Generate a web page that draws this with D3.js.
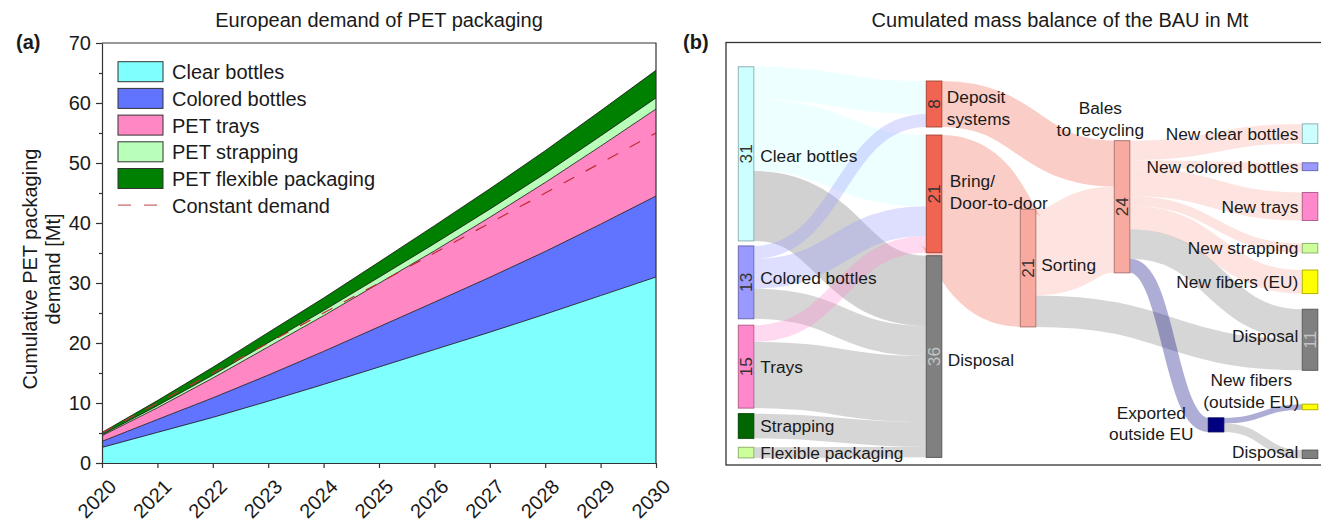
<!DOCTYPE html>
<html>
<head>
<meta charset="utf-8">
<script src="https://cdn.jsdelivr.net/npm/d3@7"></script>
<style>
  body { margin: 0; background: #fff; }
  svg { display: block; font-family: Arial, "Liberation Sans", Helvetica, sans-serif; }
</style>
</head>
<body>
<svg id="fig" width="1321" height="522"></svg>
<script>
// ---------- Panel (a): cumulative European PET packaging demand [Mt] ----------
const years = [2020, 2021, 2022, 2023, 2024, 2025, 2026, 2027, 2028, 2029, 2030];
const clearBottles   = [2.6, 5.1, 7.6, 10.3, 13.1, 16.0, 18.9, 21.8, 24.8, 27.9, 31.0];
const coloredBottles = [1.0, 2.15, 3.25, 4.35, 5.5, 6.7, 7.9, 9.15, 10.45, 11.9, 13.5];
const petTrays       = [0.95, 1.95, 3.3, 4.7, 5.95, 7.25, 8.55, 10.0, 11.5, 13.0, 14.5];
const petStrapping   = [0.15, 0.35, 0.5, 0.7, 0.85, 1.0, 1.2, 1.35, 1.5, 1.7, 1.85];
const petFlexible    = [0.4, 0.85, 1.3, 1.7, 2.1, 2.55, 3.0, 3.4, 3.8, 4.2, 4.6];
const constantDemand = [5, 10, 15, 20, 25, 30, 35, 40, 45, 50, 55];
const yTicks = [0, 10, 20, 30, 40, 50, 60, 70];
const yMinorTicks = [5, 15, 25, 35, 45, 55, 65];
const layerKeys = ["clear", "colored", "trays", "strapping", "flexible"];
const layerNames = ["Clear bottles", "Colored bottles", "PET trays", "PET strapping", "PET flexible packaging"];

// ---------- Panel (b): cumulated mass balance of the BAU [Mt] ----------
const nodeIds = ["clear", "colored", "trays", "strapping", "flexible",
  "deposit", "bring", "disposalA", "sorting", "bales", "exported",
  "newClear", "newColored", "newTrays", "newStrapping", "fibersEU", "disposalB", "fibersOut", "disposalC"];
const nodeNames = ["Clear bottles", "Colored bottles", "Trays", "Strapping", "Flexible packaging",
  "Deposit\nsystems", "Bring/\nDoor-to-door", "Disposal", "Sorting", "Bales\nto recycling", "Exported\noutside EU",
  "New clear bottles", "New colored bottles", "New trays", "New strapping", "New fibers (EU)", "Disposal",
  "New fibers\n(outside EU)", "Disposal"];
const flowSources = ["clear", "clear", "clear", "colored", "colored", "colored", "trays", "trays", "strapping", "flexible",
  "deposit", "bring", "sorting", "sorting",
  "bales", "bales", "bales", "bales", "bales", "bales", "bales",
  "exported", "exported"];
const flowTargets = ["deposit", "bring", "disposalA", "deposit", "bring", "disposalA", "bring", "disposalA", "disposalA", "disposalA",
  "bales", "sorting", "bales", "disposalB",
  "newClear", "newColored", "newTrays", "newStrapping", "fibersEU", "disposalB", "exported",
  "fibersOut", "disposalC"];
const flowValues = [5.9, 12.7, 12.5, 2.3, 5.3, 5.4, 3.0, 11.8, 4.4, 1.9,
  8.2, 21.0, 15.4, 5.6,
  3.5, 1.4, 5.0, 1.7, 4.2, 5.3, 2.5,
  1.0, 1.5];

// ---------- styling & layout ----------
const FONT_BIG = 20, FONT_SK = 17.3;
const areaColors = { clear: "#80ffff", colored: "#6074ff", trays: "#ff88c4", strapping: "#b9ffb9", flexible: "#008000" };
const nodeStyle = {
  clear: ["#ccffff", "#8fb3b3"], colored: ["#9999ff", "#6b6bb3"], trays: ["#ff88cc", "#b3608f"],
  strapping: ["#006600", "#004700"], flexible: ["#ccff99", "#8fb36b"],
  deposit: ["#f26452", "#a94639"], bring: ["#f26452", "#a94639"], disposalA: ["#808080", "#5a5a5a"],
  sorting: ["#f8aaa0", "#ae7770"], bales: ["#f8aaa0", "#ae7770"], exported: ["#000080", "#000060"],
  newClear: ["#ccffff", "#8fb3b3"], newColored: ["#9999ff", "#6b6bb3"], newTrays: ["#ff88cc", "#b3608f"],
  newStrapping: ["#ccff99", "#8fb36b"], fibersEU: ["#ffff00", "#b3b300"], disposalB: ["#808080", "#5a5a5a"],
  fibersOut: ["#ffff00", "#b3b300"], disposalC: ["#808080", "#5a5a5a"]
};
// column index (x) and top slot (in Mt units along the panel) of each node
const nodeColumn = { clear: 0, colored: 0, trays: 0, strapping: 0, flexible: 0, deposit: 2, bring: 2, disposalA: 2,
  sorting: 3, bales: 4, exported: 5, newClear: 6, newColored: 6, newTrays: 6, newStrapping: 6, fibersEU: 6,
  disposalB: 6, fibersOut: 6, disposalC: 6 };
const nodeSlot = { clear: 0.85, colored: 32.85, trays: 47.0, strapping: 62.8, flexible: 68.8,
  deposit: 3.4, bring: 13.05, disposalA: 34.6, sorting: 26.3, bales: 14.05, exported: 63.55,
  newClear: 11.05, newColored: 18.0, newTrays: 23.3, newStrapping: 32.4, fibersEU: 37.15,
  disposalB: 44.15, fibersOut: 61.1, disposalC: 69.3 };
const numberedNodes = new Set(["clear", "colored", "trays", "deposit", "bring", "disposalA", "sorting", "bales", "disposalB"]);
const tintedByTarget = new Set(["disposalA", "disposalB", "disposalC", "exported"]);

const svg = d3.select("#fig");
const ink = "#1a1a1a";

// ================= Panel (a) =================
const xA = d3.scaleLinear().domain([2020, 2030]).range([102, 656]);
const yA = d3.scaleLinear().domain([0, 70]).range([463, 43]);
const seriesByKey = { clear: clearBottles, colored: coloredBottles, trays: petTrays, strapping: petStrapping, flexible: petFlexible };
const rows = years.map((yr, i) => {
  const r = { year: yr };
  layerKeys.forEach(k => r[k] = seriesByKey[k][i]);
  return r;
});
const stacked = d3.stack().keys(layerKeys)(rows);
const gA = svg.append("g");

gA.selectAll("path.layer").data(stacked).join("path")
  .attr("class", "layer")
  .attr("fill", d => areaColors[d.key])
  .attr("d", d3.area().x(d => xA(d.data.year)).y0(d => yA(d[0])).y1(d => yA(d[1])));

gA.selectAll("path.edge").data(stacked).join("path")
  .attr("class", "edge")
  .attr("fill", "none").attr("stroke", "#111").attr("stroke-width", 0.8)
  .attr("d", d3.line().x(d => xA(d.data.year)).y(d => yA(d[1])));

gA.append("path")
  .datum(years.map((yr, i) => [yr, constantDemand[i]]))
  .attr("fill", "none").attr("stroke", "#bf2c36").attr("stroke-width", 1.2)
  .attr("stroke-dasharray", "12,13")
  .attr("d", d3.line().x(d => xA(d[0])).y(d => yA(d[1])));

// frame: top and right edges
gA.append("path")
  .attr("fill", "none").attr("stroke", "#333").attr("stroke-width", 1.2)
  .attr("d", `M${xA(2020)},${yA(70)}H${xA(2030)}V${yA(0)}`);

// axes
const axY = gA.append("g").attr("transform", `translate(${xA(2020)},0)`)
  .call(d3.axisLeft(yA).tickValues(yTicks).tickSize(6).tickSizeOuter(0).tickPadding(5));
gA.append("g").attr("transform", `translate(${xA(2020)},0)`)
  .call(d3.axisLeft(yA).tickValues(yMinorTicks).tickSize(3).tickSizeOuter(0).tickFormat(""))
  .select(".domain").remove();
const axX = gA.append("g").attr("transform", `translate(0,${yA(0)})`)
  .call(d3.axisBottom(xA).tickValues(years).tickFormat(d3.format("d")).tickSize(5).tickSizeOuter(0));
gA.selectAll(".tick line, .domain").attr("stroke", "#333").attr("stroke-width", 1.2);
axY.selectAll("text").attr("font-size", FONT_BIG).attr("fill", ink).attr("font-family", null);
axX.selectAll("text")
  .attr("font-size", FONT_BIG).attr("fill", ink).attr("font-family", null)
  .attr("x", 0).attr("y", 0).attr("dy", 0)
  .attr("text-anchor", "end")
  .attr("transform", "translate(15,25) rotate(-45)");

// titles and axis label
svg.append("text").attr("x", (xA(2020) + xA(2030)) / 2).attr("y", 27)
  .attr("text-anchor", "middle").attr("font-size", FONT_BIG).attr("fill", ink)
  .text("European demand of PET packaging");
svg.append("text").attr("x", 16).attr("y", 49).attr("font-size", FONT_BIG).attr("font-weight", "bold").attr("fill", ink).text("(a)");
const yl = svg.append("text").attr("transform", "translate(37,269) rotate(-90)")
  .attr("text-anchor", "middle").attr("font-size", FONT_BIG).attr("fill", ink);
yl.append("tspan").attr("x", 0).attr("y", 0).text("Cumulative PET packaging");
yl.append("tspan").attr("x", 0).attr("y", 23).text("demand [Mt]");

// legend
const leg = gA.append("g").attr("transform", "translate(118,61.7)");
layerKeys.forEach((k, i) => {
  const g = leg.append("g").attr("transform", `translate(0,${i * 26.7})`);
  g.append("rect").attr("width", 45).attr("height", 20)
    .attr("fill", areaColors[k]).attr("stroke", "#333").attr("stroke-width", 1);
  g.append("text").attr("x", 54).attr("y", 17.6).attr("font-size", FONT_BIG).attr("fill", ink).text(layerNames[i]);
});
const legLine = leg.append("g").attr("transform", `translate(0,${5 * 26.7})`);
legLine.append("line").attr("x1", 0).attr("x2", 45).attr("y1", 10).attr("y2", 10)
  .attr("stroke", "#c86a6a").attr("stroke-width", 1.2).attr("stroke-dasharray", "13,13");
legLine.append("text").attr("x", 54).attr("y", 17.6).attr("font-size", FONT_BIG).attr("fill", ink).text("Constant demand");

// ================= Panel (b): Sankey =================
const gB = svg.append("g");
gB.append("rect").attr("x", 726).attr("y", 42.5).attr("width", 640).attr("height", 422.5)
  .attr("fill", "none").attr("stroke", "#333").attr("stroke-width", 1.3);
svg.append("text").attr("x", 1060).attr("y", 27).attr("text-anchor", "middle")
  .attr("font-size", FONT_BIG).attr("fill", ink).text("Cumulated mass balance of the BAU in Mt");
svg.append("text").attr("x", 683).attr("y", 49).attr("font-size", FONT_BIG).attr("font-weight", "bold").attr("fill", ink).text("(b)");

const xS = d3.scaleLinear().domain([0, 6]).range([738.3, 1302.3]);
const yS = d3.scaleLinear().domain([0, 70]).range([62, 454]);
const NODE_W = 15.5;
const k = yS(1) - yS(0);

const nodes = nodeIds.map((id, i) => ({ id, name: nodeNames[i], sourceLinks: [], targetLinks: [] }));
const byId = new Map(nodes.map(n => [n.id, n]));
const links = flowValues.map((v, i) => ({ source: byId.get(flowSources[i]), target: byId.get(flowTargets[i]), value: v }));
links.forEach(l => { l.source.sourceLinks.push(l); l.target.targetLinks.push(l); });
nodes.forEach(n => {
  n.value = Math.max(d3.sum(n.sourceLinks, l => l.value), d3.sum(n.targetLinks, l => l.value));
  n.x0 = xS(nodeColumn[n.id]); n.x1 = n.x0 + NODE_W;
  n.y0 = yS(nodeSlot[n.id]); n.y1 = yS(nodeSlot[n.id] + n.value);
});
// stack link bands inside each node, ordered by the position of the opposite node
nodes.forEach(n => {
  let y = n.y0;
  n.sourceLinks.sort((a, b) => a.target.y0 - b.target.y0)
    .forEach(l => { l.width = l.value * k; l.y0 = y + l.width / 2; y += l.width; });
  y = n.y0;
  n.targetLinks.sort((a, b) => a.source.y0 - b.source.y0)
    .forEach(l => { l.y1 = y + l.value * k / 2; y += l.value * k; });
});

const linkPath = d3.linkHorizontal().source(l => [l.source.x1, l.y0]).target(l => [l.target.x0, l.y1]);
gB.append("g").selectAll("path").data(links).join("path")
  .attr("d", linkPath)
  .attr("fill", "none")
  .attr("stroke", l => nodeStyle[tintedByTarget.has(l.target.id) ? l.target.id : l.source.id][0])
  .attr("stroke-opacity", l => l.source.id === "clear" ? 0.36 : 0.32)
  .attr("stroke-width", l => l.width);

gB.append("g").selectAll("rect").data(nodes).join("rect")
  .attr("x", n => n.x0).attr("y", n => n.y0)
  .attr("width", n => n.x1 - n.x0).attr("height", n => n.y1 - n.y0)
  .attr("fill", n => nodeStyle[n.id][0]).attr("stroke", n => nodeStyle[n.id][1]).attr("stroke-width", 1);

// values written inside the larger nodes
gB.append("g").selectAll("text").data(nodes.filter(n => numberedNodes.has(n.id))).join("text")
  .attr("transform", n => `translate(${(n.x0 + n.x1) / 2},${(n.y0 + n.y1) / 2}) rotate(-90)`)
  .attr("text-anchor", "middle").attr("dy", "0.36em")
  .attr("font-size", FONT_SK)
  .attr("fill", n => nodeStyle[n.id][0] === "#808080" ? "#c4c4c4" : "#333")
  .text(n => d3.format(".0f")(n.value));

// node names
const labelRule = {
  right: n => ({ x: n.x1 + 6.5, cy: (n.y0 + n.y1) / 2, anchor: "start" }),
  left: n => ({ x: n.x0 - 4, cy: (n.y0 + n.y1) / 2, anchor: "end" })
};
const labelSide = { clear: "right", colored: "right", trays: "right", strapping: "right", flexible: "right",
  deposit: "right", bring: "right", disposalA: "right", sorting: "right",
  newClear: "left", newColored: "left", newTrays: "left", newStrapping: "left", fibersEU: "left",
  disposalB: "left", disposalC: "left" };
const labelCustom = {
  clear: n => ({ x: n.x1 + 6.5, cy: (n.y0 + n.y1) / 2 + 1.5, anchor: "start" }),
  colored: n => ({ x: n.x1 + 6.5, cy: (n.y0 + n.y1) / 2 - 4.5, anchor: "start" }),
  deposit: n => ({ x: n.x1 + 5, cy: (n.y0 + n.y1) / 2 + 4, anchor: "start" }),
  bring: n => ({ x: n.x1 + 8, cy: (n.y0 + n.y1) / 2 - 2, anchor: "start" }),
  disposalA: n => ({ x: n.x1 + 6, cy: (n.y0 + n.y1) / 2 + 3, anchor: "start" }),
  sorting: n => ({ x: n.x1 + 5.5, cy: (n.y0 + n.y1) / 2 - 3.5, anchor: "start" }),
  disposalB: n => ({ x: n.x0 - 4, cy: (n.y0 + n.y1) / 2 - 4, anchor: "end" }),
  disposalC: n => ({ x: n.x0 - 4, cy: (n.y0 + n.y1) / 2 - 3, anchor: "end" }),
  bales: n => ({ x: n.x0 - 14, cy: n.y0 - 21.8, anchor: "middle" }),
  exported: n => ({ x: n.x0 - 57, cy: (n.y0 + n.y1) / 2 - 1.5, anchor: "middle" }),
  fibersOut: n => ({ x: n.x0 - 51, cy: n.y0 - 13.2, anchor: "middle" })
};
const LINE_H = 21.5;
nodes.forEach(n => {
  const rule = labelCustom[n.id] || labelRule[labelSide[n.id]];
  if (!rule) return;
  const p = rule(n);
  const lines = n.name.split("\n");
  const t = gB.append("text").attr("text-anchor", p.anchor).attr("font-size", FONT_SK).attr("fill", ink);
  const top = p.cy - (lines.length - 1) * LINE_H / 2;
  lines.forEach((s, i) => t.append("tspan").attr("x", p.x).attr("y", top + i * LINE_H + FONT_SK * 0.36).text(s));
});
</script>
</body>
</html>
